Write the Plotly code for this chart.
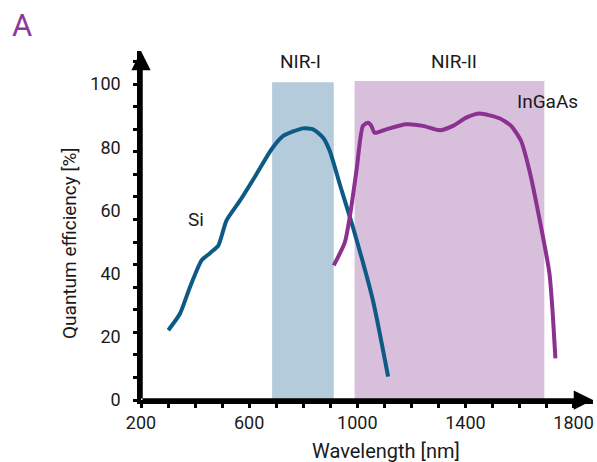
import plotly.graph_objects as go

# Si photodiode quantum efficiency
si_nm = [301, 344, 381, 424, 455, 486, 516, 566, 627, 683, 726, 800, 837, 873, 898, 935, 984, 1058, 1114]
si_qe = [22.1, 27.3, 35.7, 44.2, 46.5, 48.9, 56.8, 63.1, 71.5, 79.4, 83.6, 86.0, 85.7, 83.1, 78.9, 68.4, 54.7, 31.5, 7.4]

# InGaAs quantum efficiency
ingaas_nm = [913, 954, 972, 997, 1021, 1040, 1052, 1064, 1107, 1181, 1243, 1305, 1354, 1403, 1452,
             1526, 1569, 1606, 1637, 1680, 1711, 1723, 1733]
ingaas_qe = [42.6, 49.9, 57.8, 72.6, 86.8, 87.8, 86.8, 84.6, 85.7, 87.3, 86.8, 85.4, 86.8, 89.4, 90.7,
             89.2, 86.8, 82.0, 72.6, 54.7, 40.0, 27.4, 13.2]

# spectral windows
nir1 = [685, 913]
nir2 = [990, 1692]

x_ticks = [200, 600, 1000, 1400, 1800]
y_ticks = [0, 20, 40, 60, 80, 100]

font = "Roboto, DejaVu Sans, sans-serif"
ink = "#1a1a1a"
blue = "#0d5a85"
purple = "#8b3190"

fig = go.Figure()

fig.add_trace(go.Scatter(x=si_nm, y=si_qe, mode="lines",
                         line=dict(color=blue, width=4, shape="spline", smoothing=0.6)))
fig.add_trace(go.Scatter(x=ingaas_nm, y=ingaas_qe, mode="lines",
                         line=dict(color=purple, width=4, shape="spline", smoothing=0.6)))

fig.add_shape(type="rect", x0=nir1[0], x1=nir1[1], y0=0, y1=100.6, layer="below",
              fillcolor="#b3cbdb", line_width=0)
fig.add_shape(type="rect", x0=nir2[0], x1=nir2[1], y0=0, y1=101, layer="below",
              fillcolor="#d8bfdb", line_width=0)

# axis arrows
fig.add_annotation(x=1872, y=0, ax=200, ay=0, axref="x", ayref="y", text="",
                   showarrow=True, arrowhead=2, arrowsize=1.1, arrowwidth=3.5, arrowcolor="black")
fig.add_annotation(x=200, y=110.5, ax=200, ay=0, axref="x", ayref="y", text="",
                   showarrow=True, arrowhead=2, arrowsize=1.1, arrowwidth=3.5, arrowcolor="black")

txt = dict(family=font, size=19, color=ink)
fig.add_annotation(x=791, y=107.1, text="NIR-I", showarrow=False, font=txt)
fig.add_annotation(x=1356, y=107.1, text="NIR-II", showarrow=False, font=txt)
fig.add_annotation(x=405, y=57, text="Si", showarrow=False, font=txt)
fig.add_annotation(x=1703, y=94.6, text="InGaAs", showarrow=False, font=txt)

# paper positions from pixel positions (plot area: x 141..593, y 51..400)
def px(x):
    return (x - 141) / 452


def py(y):
    return (400 - y) / 349


fig.add_annotation(xref="paper", yref="paper", x=px(386), y=py(451), text="Wavelength [nm]",
                   showarrow=False, xanchor="center", yanchor="middle",
                   font=dict(family=font, size=20, color=ink))
fig.add_annotation(xref="paper", yref="paper", x=px(22), y=py(26), text="A", showarrow=False,
                   xanchor="center", yanchor="middle",
                   font=dict(family=font, size=31, color="#8b3a9b"))
fig.add_annotation(xref="paper", yref="paper", x=px(69), y=py(243),
                   text="Quantum efficiency [%]", textangle=-90, showarrow=False,
                   xanchor="center", yanchor="middle",
                   font=dict(family=font, size=19, color=ink))

fig.update_xaxes(range=[200, 1872], showline=True, linewidth=3.5, linecolor="black",
                 showgrid=False, zeroline=False, tickvals=x_ticks, automargin=False,
                 ticks="outside", ticklen=4, tickwidth=3, tickcolor="black",
                 ticklabelstandoff=0,
                 minor=dict(ticks="outside", dtick=100, tick0=200, ticklen=4, tickwidth=3,
                            tickcolor="black", showgrid=False),
                 tickfont=dict(family=font, size=18, color=ink))
fig.update_yaxes(range=[0, 110.5], showline=True, linewidth=3.5, linecolor="black",
                 showgrid=False, zeroline=False, tickvals=y_ticks, ticks="", automargin=False,
                 ticklabelstandoff=13,
                 minor=dict(ticks="outside", dtick=100 / 14, tick0=0, ticklen=4, tickwidth=3,
                            tickcolor="black", showgrid=False),
                 tickfont=dict(family=font, size=18, color=ink))

fig.update_layout(width=597, height=462, showlegend=False,
                  margin=dict(l=141, r=4, t=51, b=62),
                  plot_bgcolor="white", paper_bgcolor="white")

# drop the default body margin so the figure fills the window exactly
fig.write_html("out.html", config={"displayModeBar": False},
               post_script="document.body.style.margin='0';")
